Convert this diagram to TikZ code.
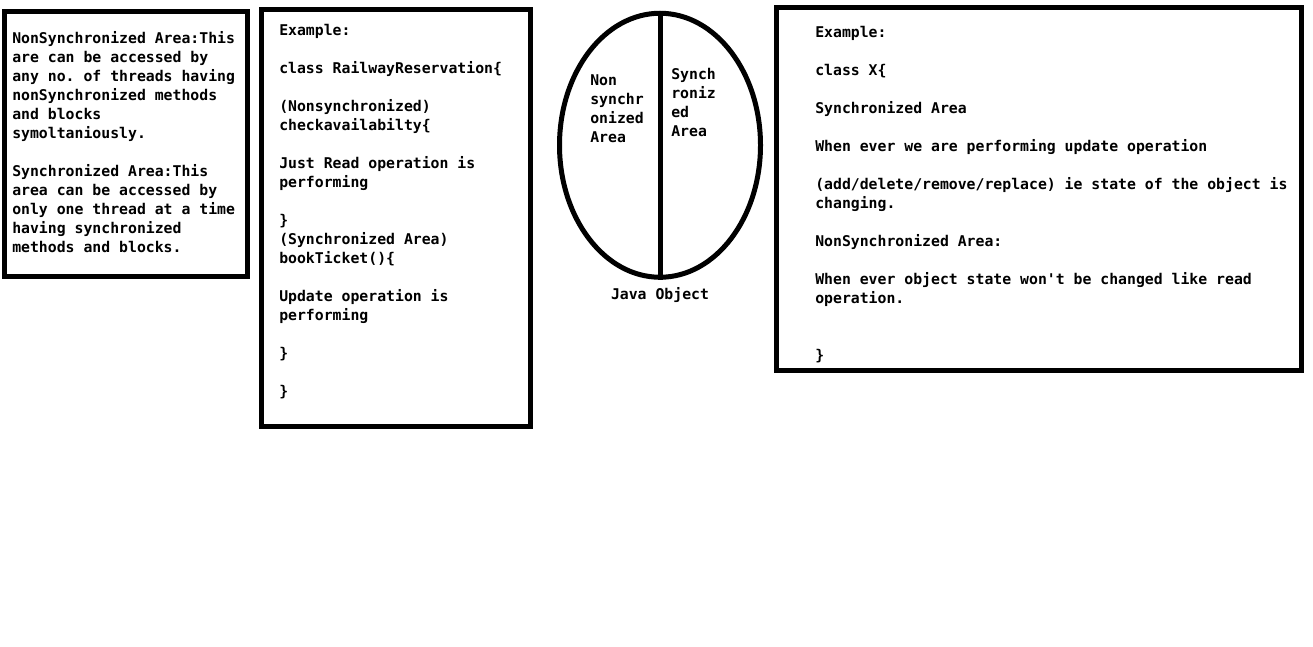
\documentclass[tikz,border=0pt]{standalone}
\usepackage{fontspec}
\setmonofont{DejaVu Sans Mono}
\usetikzlibrary{positioning, shapes.geometric}

\begin{document}
\begin{tikzpicture}[x=0.75pt, y=-0.75pt,
	box/.style={draw=black, line width=3.75pt, rectangle, inner sep=0pt},
	txt/.style={anchor=base west, align=left, inner sep=0pt, font=\ttfamily\bfseries\fontsize{11.1}{14.25}\selectfont}]
			\useasboundingbox (0,0) rectangle (1313,646);
			
			% boxes
			\node[box, minimum width=182.25pt, minimum height=198.4pt] (nonsync) at (126,143.75){};
			\node[box, minimum width=201.75pt, minimum height=312.4pt] (railway) at (396,217.75){};
			\node[box, minimum width=393.4pt, minimum height=272.25pt] (classx) at (1038.75,189){};
			
			% java object
			\node[draw=black, line width=3.75pt, ellipse, inner sep=0pt, minimum width=150.75pt, minimum height=198pt] (obj) at (660,145.25){};
			\draw[line width=3.75pt] (obj.north) -- (obj.south);
			
			% texts, placed by the baseline of their last line
			\node[txt] (a) at (12,252){NonSynchronized Area:This\\are can be accessed by\\any no. of threads having\\nonSynchronized methods\\and blocks\\symoltaniously.\\ \\Synchronized Area:This\\area can be accessed by\\only one thread at a time\\having synchronized\\methods and blocks.};
			\node[txt] (b) at (279,396){Example:\\ \\class RailwayReservation\{\\ \\(Nonsynchronized)\\checkavailabilty\{\\ \\Just Read operation is\\performing\\ \\\}\\(Synchronized Area)\\bookTicket()\{\\ \\Update operation is\\performing\\ \\\}\\ \\\}};
			\node[txt] (c) at (590,142){Non\\synchr\\onized\\Area};
			\node[txt] (d) at (671,136){Synch\\roniz\\ed\\Area};
			\node[txt, anchor=base] (e) at (660,299){Java Object};
			\node[txt] (f) at (815,360){Example:\\ \\class X\{\\ \\Synchronized Area\\ \\When ever we are performing update operation\\ \\(add/delete/remove/replace) ie state of the object is\\changing.\\ \\NonSynchronized Area:\\ \\When ever object state won't be changed like read\\operation.\\ \\ \\\}};
			\end{tikzpicture}
\end{document}
